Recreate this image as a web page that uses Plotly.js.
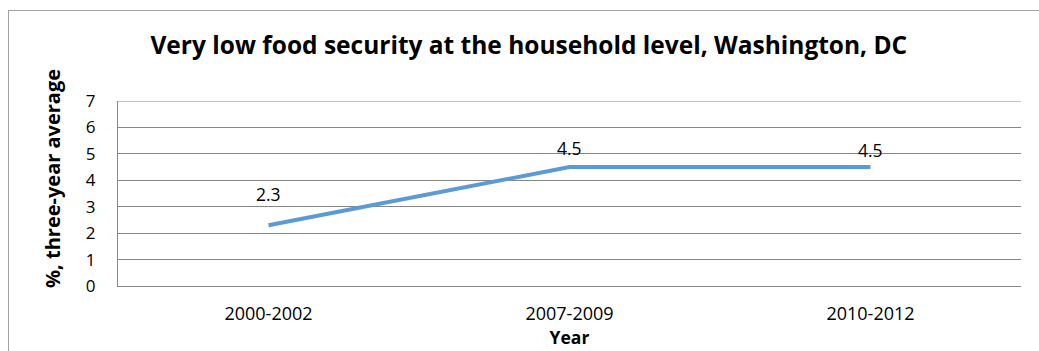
<!DOCTYPE html>
<html>
<head>
<meta charset="utf-8">
<script src="https://cdn.plot.ly/plotly-3.0.1.min.js"></script>
<style>
  html, body { margin: 0; padding: 0; background: #fff; }
  #wrap { position: relative; width: 1039px; height: 351px; overflow: hidden; }
  #chart { position: absolute; left: 0; top: 0; width: 1039px; height: 351px; }
  #frame { position: absolute; left: 8px; top: 10px; width: 1100px; height: 400px;
           border-left: 1px solid #a0a0a0; border-top: 1px solid #a0a0a0; pointer-events: none; }
</style>
</head>
<body>
<div id="wrap">
  <div id="chart"></div>
  <div id="frame"></div>
</div>
<script>
// Three-year averages of very low food security, Washington, DC
const periods = ['2000-2002', '2007-2009', '2010-2012'];
const values = [2.3, 4.5, 4.5];
const labelLift = [31, 19, 17];
const yTicks = [0, 1, 2, 3, 4, 5, 6, 7];

const FONT = 'Open Sans, Noto Sans, sans-serif';

const trace = {
  type: 'scatter',
  mode: 'lines',
  x: periods,
  y: values,
  line: { color: '#5b9bd5', width: 4 },
  hoverinfo: 'skip',
  showlegend: false
};

const annotations = periods.map((p, i) => ({
  x: p, y: values[i], xref: 'x', yref: 'y',
  text: values[i].toFixed(1),
  showarrow: false,
  yshift: labelLift[i],
  font: { family: FONT, size: 17.5, color: '#000' }
}));

// Value-axis title, set a little above the middle of the axis
annotations.push({
  xref: 'paper', yref: 'paper', x: -0.072, y: 0.584,
  xanchor: 'center', yanchor: 'middle',
  text: '<b>%, three-year average</b>', textangle: -90,
  showarrow: false,
  font: { family: FONT, size: 20, color: '#000' }
});

const layout = {
  width: 1039, height: 351,
  margin: { l: 118, r: 18, t: 101, b: 65, pad: 0 },
  paper_bgcolor: '#fff', plot_bgcolor: '#fff',
  title: {
    text: '<b>Very low food security at the household level, Washington, DC</b>',
    font: { family: FONT, size: 24.5, color: '#000' },
    x: 0.509, xanchor: 'center', y: 0.872, yanchor: 'middle'
  },
  xaxis: {
    type: 'category',
    range: [-0.5, 2.5],
    showgrid: false,
    showline: true, linecolor: '#868686', linewidth: 1,
    ticks: '', tickfont: { family: FONT, size: 18, color: '#000' },
    ticklabelstandoff: 11,
    title: { text: '<b>Year</b>', font: { family: FONT, size: 17.5, color: '#000' }, standoff: 7 },
    zeroline: false, fixedrange: true
  },
  yaxis: {
    range: [0, 7],
    tickvals: yTicks,
    showgrid: true, gridcolor: '#868686', gridwidth: 1,
    showline: true, linecolor: '#868686', linewidth: 1,
    ticks: '', tickfont: { family: FONT, size: 17, color: '#000' },
    ticklabelstandoff: 18,
    zeroline: false, fixedrange: true
  },
  shapes: [{
    type: 'line', xref: 'paper', yref: 'y', x0: 0, x1: 1, y0: 7, y1: 7,
    line: { color: '#868686', width: 1 }
  }],
  annotations: annotations
};

Plotly.newPlot('chart', [trace], layout, { staticPlot: true, displayModeBar: false });
</script>
</body>
</html>
